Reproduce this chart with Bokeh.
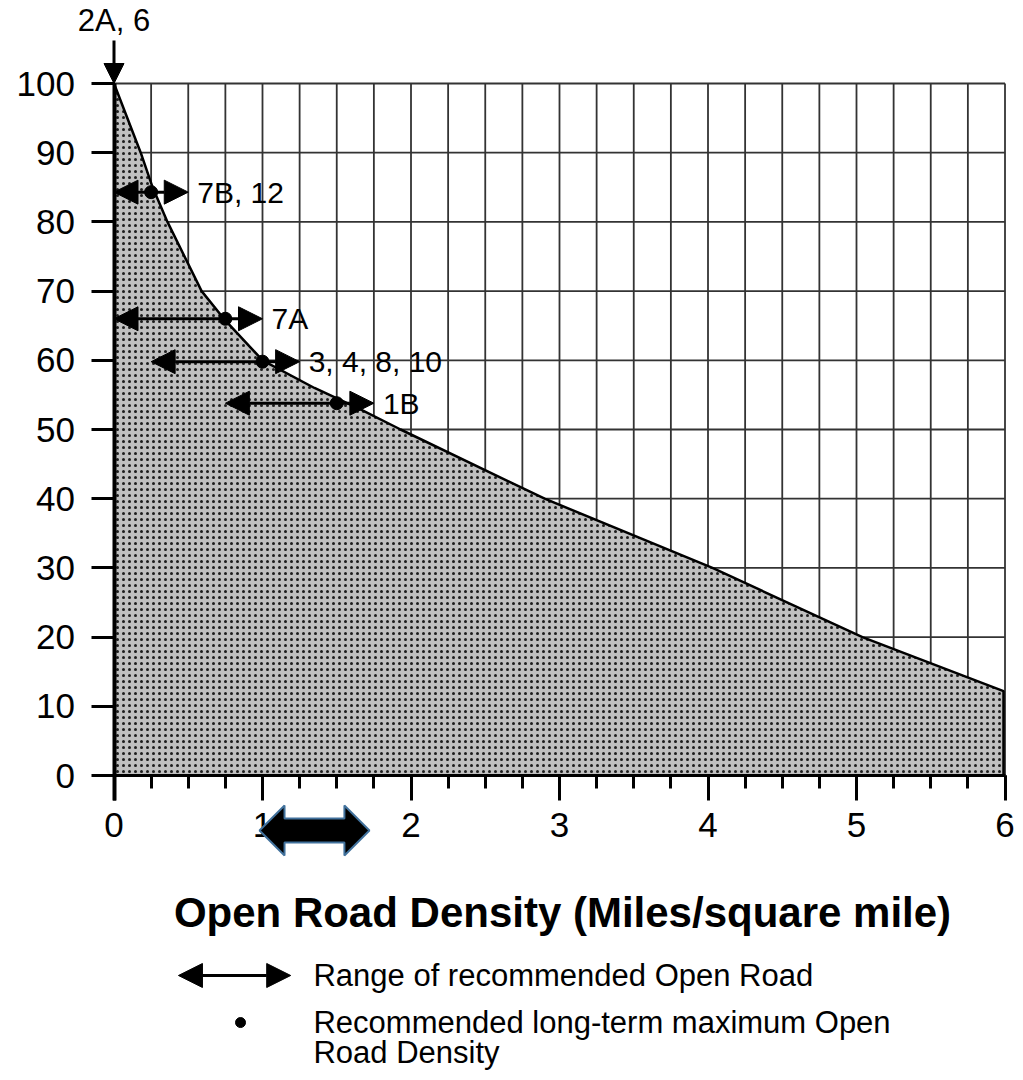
import numpy as np
from bokeh.plotting import figure
from bokeh.models import (LinearAxis, FixedTicker, Range1d, Arrow, NormalHead,
                          ColumnDataSource, Label)
from bokeh.core.properties import value
from bokeh.embed import file_html
from bokeh.resources import INLINE

# ---------------- data ----------------
# upper boundary of the shaded (acceptable) region
curve_x = [0, 0.18, 0.26, 0.36, 0.59, 0.74, 1.0, 1.35, 1.65, 1.93, 2.9, 4.03, 5.04, 5.99]
curve_y = [100, 90, 85, 80, 70, 66, 60, 56, 53, 50, 40, 30, 20, 12.2]

# ranges of recommended open road density
range_labels = ["7B, 12", "7A", "3, 4, 8, 10", "1B"]
range_y = [84.3, 66.0, 59.8, 53.8]
range_lo = [0.0, 0.0, 0.25, 0.75]
range_hi = [0.5, 1.0, 1.25, 1.75]
range_rec = [0.25, 0.75, 1.0, 1.5]

# marker at top of y axis
top_label = "2A, 6"
top_x = 0.0
top_y = 100.0

# highlighted range below the axis
block_lo, block_hi = 0.98, 1.72

x_ticks = [0, 1, 2, 3, 4, 5, 6]
x_minor = [i * 0.25 for i in range(0, 25)]
y_ticks = [0, 10, 20, 30, 40, 50, 60, 70, 80, 90, 100]

x_title = "Open Road Density (Miles/square mile)"
legend_1 = "Range of recommended Open Road"
legend_2a = "Recommended long-term maximum Open"
legend_2b = "Road Density"

FONT = "Liberation Sans"

# ---------------- figure ----------------
# pixel scale: 148.5 px per mile/sq mi, 6.92 px per percent
XS, YS = 148.5, 6.92
W, H = 1015, 1072
x0 = (0 - 113.5) / XS
y1 = 775 / YS
p = figure(width=W, height=H,
           x_range=Range1d(x0, x0 + W / XS), y_range=Range1d(y1 - H / YS, y1),
           output_backend="svg", toolbar_location=None,
           x_axis_type=None, y_axis_type=None, min_border=0,
           outline_line_color=None, background_fill_color="white")
p.grid.visible = False

# grid (cells within 0..6 x 0..100)
gx = [v for v in x_minor if v > 0]
gy = [v for v in y_ticks if v > 0]
p.segment(x0=gx, y0=0, x1=gx, y1=100, line_color="#333333", line_width=1.8)
p.segment(x0=0, y0=gy, x1=6, y1=gy, line_color="#333333", line_width=1.8)

# stippled region
poly_x = curve_x + [curve_x[-1], 0]
poly_y = curve_y + [0, 0]
p.patch(poly_x, poly_y, fill_color="#c0c0c0", line_color=None,
        hatch_pattern="dot", hatch_color="black", hatch_scale=6,
        hatch_weight=2, hatch_alpha=0.85)
p.line(curve_x + [curve_x[-1]], curve_y + [0], line_color="black", line_width=2.5)

# axes
yaxis = LinearAxis(fixed_location=0, ticker=FixedTicker(ticks=y_ticks), bounds=(-3.6, 100))
yaxis.axis_line_width = 4
yaxis.major_tick_line_width = 3
yaxis.major_tick_out = 23
yaxis.major_tick_in = 0
yaxis.minor_tick_line_color = None
yaxis.major_label_standoff = 16
yaxis.major_label_text_font = FONT
yaxis.major_label_text_font_size = "35px"
yaxis.major_label_text_color = "black"
p.add_layout(yaxis, "left")

xaxis = LinearAxis(fixed_location=0, ticker=FixedTicker(ticks=x_ticks, minor_ticks=x_minor),
                   bounds=(0, 6))
xaxis.axis_line_width = 3
xaxis.major_tick_line_width = 3
xaxis.major_tick_out = 25
xaxis.major_tick_in = 0
xaxis.minor_tick_line_width = 3
xaxis.minor_tick_out = 13
xaxis.minor_tick_in = 0
xaxis.major_label_standoff = 12
xaxis.major_label_text_font = FONT
xaxis.major_label_text_font_size = "35px"
xaxis.major_label_text_color = "black"
p.add_layout(xaxis, "below")

# range arrows
src = ColumnDataSource(dict(lo=range_lo, hi=range_hi, y=range_y, rec=range_rec, lab=range_labels))
p.add_layout(Arrow(start=NormalHead(size=24, fill_color="black", line_color="black"),
                   end=NormalHead(size=24, fill_color="black", line_color="black"),
                   x_start="lo", y_start="y", x_end="hi", y_end="y", source=src,
                   line_width=3, line_color="black"))
p.scatter("rec", "y", source=src, size=13, color="black")
p.text("hi", "y", text="lab", source=src, x_offset=9, text_font=value(FONT),
       text_font_size="30px", text_baseline="middle", text_align="left", text_color="black")

# top marker arrow
p.add_layout(Arrow(end=NormalHead(size=20, fill_color="black", line_color="black"),
                   x_start=top_x, y_start=top_y + 6.2, x_end=top_x, y_end=top_y,
                   line_width=3, line_color="black"))
p.text([top_x], [top_y + 9.1], text=[top_label], text_font=value(FONT), text_font_size="31px",
       text_baseline="middle", text_align="center", text_color="black")

# block arrow below axis
bc = -7.95
hl, hh, sh = 25 / XS, 25 / YS, 12 / YS
bx = [block_lo, block_lo + hl, block_lo + hl, block_hi - hl, block_hi - hl, block_hi,
      block_hi - hl, block_hi - hl, block_lo + hl, block_lo + hl]
by = [bc, bc + hh, bc + sh, bc + sh, bc + hh, bc, bc - hh, bc - sh, bc - sh, bc - hh]
blk = p.patch(bx, by, fill_color="black", line_color="#41719C", line_width=2)
blk.level = "overlay"

# x axis title
p.add_layout(Label(x=3.02, y=-19.8, text=x_title, text_font=FONT, text_font_size="42px",
                   text_font_style="bold", text_align="center", text_baseline="middle",
                   text_color="black"))

# legend
p.add_layout(Arrow(start=NormalHead(size=24, fill_color="black", line_color="black"),
                   end=NormalHead(size=24, fill_color="black", line_color="black"),
                   x_start=0.434, y_start=-28.9, x_end=1.19, y_end=-28.9,
                   line_width=3, line_color="black"))
p.scatter([0.852], [-35.7], size=10, color="black")
for txt, yy in [(legend_1, -28.9), (legend_2a, -35.7), (legend_2b, -40.0)]:
    p.add_layout(Label(x=1.343, y=yy, text=txt, text_font=FONT, text_font_size="31px",
                       text_align="left", text_baseline="middle", text_color="black"))

open("out.html", "w").write(file_html(p, INLINE))
